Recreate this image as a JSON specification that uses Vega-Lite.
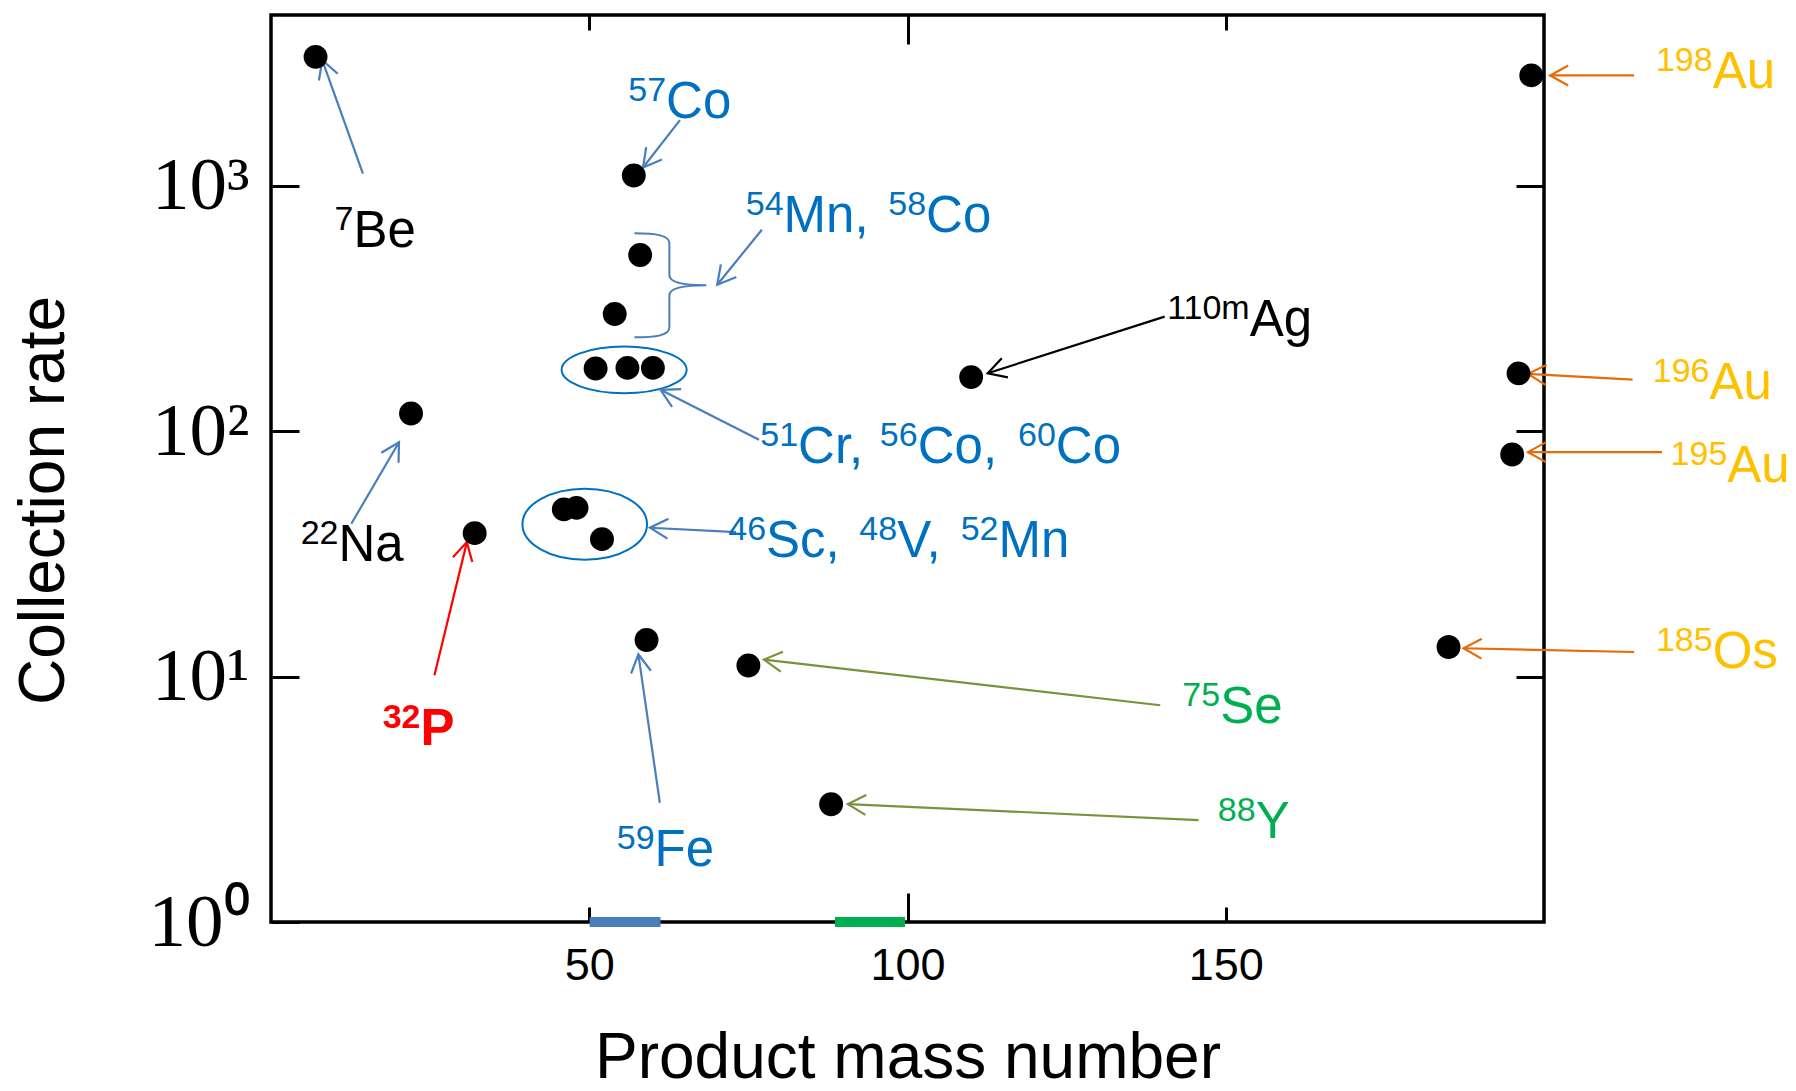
{
  "$schema": "https://vega.github.io/schema/vega-lite/v6.json",
  "width": 1273,
  "height": 907,
  "autosize": {"type": "none"},
  "padding": {"left": 271, "top": 15, "right": 252, "bottom": 169},
  "background": "white",
  "config": {
    "font": "Liberation Sans",
    "view": {"stroke": "#000000", "strokeWidth": 3.5},
    "axis": {"grid": false, "domain": false, "tickColor": "#000000", "tickWidth": 3, "labelColor": "#000000", "titleColor": "#000000", "titleFontWeight": "normal"}
  },
  "datasets": {
    "points": [
      {"nuclide": "7Be", "mass": 7, "rate": 3350},
      {"nuclide": "22Na", "mass": 22, "rate": 118},
      {"nuclide": "32P", "mass": 32, "rate": 38.4},
      {"nuclide": "46Sc", "mass": 46, "rate": 48},
      {"nuclide": "48V", "mass": 48, "rate": 48.7},
      {"nuclide": "51Cr", "mass": 51, "rate": 180},
      {"nuclide": "52Mn", "mass": 52, "rate": 36.3},
      {"nuclide": "54Mn", "mass": 54, "rate": 300},
      {"nuclide": "56Co", "mass": 56, "rate": 181},
      {"nuclide": "57Co", "mass": 57, "rate": 1100},
      {"nuclide": "58Co", "mass": 58, "rate": 522},
      {"nuclide": "59Fe", "mass": 59, "rate": 14.1},
      {"nuclide": "60Co", "mass": 60, "rate": 181},
      {"nuclide": "75Se", "mass": 75, "rate": 11.1},
      {"nuclide": "88Y", "mass": 88, "rate": 3.02},
      {"nuclide": "110mAg", "mass": 110, "rate": 166},
      {"nuclide": "185Os", "mass": 185, "rate": 13.2},
      {"nuclide": "195Au", "mass": 195, "rate": 80.3},
      {"nuclide": "196Au", "mass": 196, "rate": 172},
      {"nuclide": "198Au", "mass": 198, "rate": 2815}
    ],
    "labels": [
      {"sup": "7", "sym": "Be", "x": 12.96, "y": 560, "grp": "BeNa"},
      {"sup": "57", "sym": "Co", "x": 62.07, "y": 1895, "grp": "trans"},
      {"sup": "54", "sym": "Mn,", "x": 80.53, "y": 645, "grp": "trans"},
      {"sup": "58", "sym": "Co", "x": 102.92, "y": 645, "grp": "trans"},
      {"sup": "110m", "sym": "Ag", "x": 153.76, "y": 245, "grp": "Ag"},
      {"sup": "51", "sym": "Cr,", "x": 82.81, "y": 74.5, "grp": "trans"},
      {"sup": "56", "sym": "Co,", "x": 101.6, "y": 74.5, "grp": "trans"},
      {"sup": "60", "sym": "Co", "x": 123.3, "y": 74.5, "grp": "trans"},
      {"sup": "22", "sym": "Na", "x": 10.61, "y": 29.7, "grp": "BeNa"},
      {"sup": "46", "sym": "Sc,", "x": 77.78, "y": 30.7, "grp": "trans"},
      {"sup": "48", "sym": "V,", "x": 98.37, "y": 30.7, "grp": "trans"},
      {"sup": "52", "sym": "Mn", "x": 114.3, "y": 30.7, "grp": "trans"},
      {"sup": "32", "sym": "P", "x": 23.49, "y": 5.25, "grp": "P"},
      {"sup": "59", "sym": "Fe", "x": 60.26, "y": 1.69, "grp": "trans"},
      {"sup": "75", "sym": "Se", "x": 149.12, "y": 6.45, "grp": "SeY"},
      {"sup": "88", "sym": "Y", "x": 154.7, "y": 2.2, "grp": "SeY"},
      {"sup": "198", "sym": "Au", "x": 226.5, "y": 2503, "grp": "AuOs"},
      {"sup": "196", "sym": "Au", "x": 226.0, "y": 135.1, "grp": "AuOs"},
      {"sup": "195", "sym": "Au", "x": 228.8, "y": 62.1, "grp": "AuOs"},
      {"sup": "185", "sym": "Os", "x": 226.5, "y": 10.81, "grp": "AuOs"}
    ],
    "arrows": [
      {"x": 8.05, "y": 3245, "x2": 14.44, "y2": 1121, "grp": "BeNa"},
      {"x": 58.45, "y": 1186, "x2": 64.25, "y2": 1849, "grp": "trans"},
      {"x": 70.11, "y": 395, "x2": 77.12, "y2": 661.5, "grp": "trans"},
      {"x": 112.6, "y": 172.1, "x2": 140.4, "y2": 292.7, "grp": "Ag"},
      {"x": 61.2, "y": 147.3, "x2": 76.67, "y2": 92.2, "grp": "trans"},
      {"x": 20.11, "y": 90.1, "x2": 12.62, "y2": 41.95, "grp": "BeNa"},
      {"x": 59.54, "y": 40.4, "x2": 73.07, "y2": 38.78, "grp": "trans"},
      {"x": 30.77, "y": 35.3, "x2": 25.68, "y2": 10.12, "grp": "P"},
      {"x": 57.72, "y": 12.32, "x2": 61.09, "y2": 3.059, "grp": "trans"},
      {"x": 77.45, "y": 11.73, "x2": 139.71, "y2": 7.64, "grp": "SeY"},
      {"x": 90.63, "y": 3.022, "x2": 145.74, "y2": 2.602, "grp": "SeY"},
      {"x": 200.97, "y": 2814, "x2": 214.16, "y2": 2814, "grp": "AuOs"},
      {"x": 197.49, "y": 171.1, "x2": 213.92, "y2": 162.2, "grp": "AuOs"},
      {"x": 197.49, "y": 82.1, "x2": 218.53, "y2": 82.1, "grp": "AuOs"},
      {"x": 187.37, "y": 13.04, "x2": 214.16, "y2": 12.59, "grp": "AuOs"}
    ],
    "shapes": [
      {"shape": "ellipse-a", "x": 55.48, "y": 177.7},
      {"shape": "ellipse-b", "x": 49.29, "y": 41.75},
      {"shape": "brace", "x": 57.09, "y": 392.6}
    ],
    "bars": [
      {"range": "A", "x": 50.06, "x2": 61.2, "y": 1},
      {"range": "B", "x": 88.6, "x2": 99.6, "y": 1}
    ]
  },
  "layer": [
    {
      "data": {"name": "shapes"},
      "mark": {"type": "point", "filled": false, "size": 4, "strokeWidth": 2, "opacity": 1, "stroke": {"expr": "datum.shape == 'brace' ? '#4A7EBB' : '#0070C0'"}},
      "encoding": {
        "x": {"field": "x", "type": "quantitative", "scale": {"domain": [0, 200], "nice": false, "zero": false}, "axis": null},
        "y": {"field": "y", "type": "quantitative", "scale": {"type": "log", "domain": [1, 4960], "nice": false}, "axis": null},
        "shape": {"field": "shape", "type": "nominal", "legend": null, "scale": {"domain": ["ellipse-a", "ellipse-b", "brace"], "range": [
          "M -62.5 0 A 62.5 23.3 0 1 0 62.5 0 A 62.5 23.3 0 1 0 -62.5 0 Z",
          "M -62.3 0 A 62.3 35.5 0 1 0 62.3 0 A 62.3 35.5 0 1 0 -62.3 0 Z",
          "M 0 -52 C 22 -52 35 -50 35 -42 L 35 -10 C 35 -3 48 0 72 0 C 48 0 35 3 35 10 L 35 42 C 35 50 22 52 0 52"
        ]}}
      }
    },
    {
      "data": {"name": "bars"},
      "mark": {"type": "rule", "strokeWidth": 10},
      "encoding": {
        "x": {"field": "x", "type": "quantitative", "scale": {"domain": [0, 200], "nice": false, "zero": false},
              "axis": {"orient": "bottom", "values": [100], "tickSize": -29, "labels": false, "title": null}},
        "x2": {"field": "x2"},
        "y": {"field": "y", "type": "quantitative", "scale": {"type": "log", "domain": [1, 4960], "nice": false},
              "axis": {"orient": "right", "values": [10, 100, 1000], "tickSize": -28, "labels": false, "title": null}},
        "color": {"field": "range", "type": "nominal", "legend": null, "scale": {"domain": ["A", "B"], "range": ["#4A7EBB", "#00B050"]}}
      }
    },
    {
      "data": {"name": "arrows"},
      "mark": {"type": "rule", "strokeWidth": 2.2},
      "encoding": {
        "x": {"field": "x", "type": "quantitative", "scale": {"domain": [0, 200], "nice": false, "zero": false},
              "axis": {"orient": "top", "values": [50, 150], "tickSize": -15, "labels": false, "title": null}},
        "x2": {"field": "x2"},
        "y": {"field": "y", "type": "quantitative", "scale": {"type": "log", "domain": [1, 4960], "nice": false}, "axis": null},
        "y2": {"field": "y2"},
        "stroke": {"field": "grp", "type": "nominal", "legend": null, "scale": {"domain": ["BeNa", "trans", "Ag", "P", "SeY", "AuOs"], "range": ["#4A7EBB", "#4A7EBB", "#000000", "#FF0000", "#77933C", "#E46C0A"]}}
      }
    },
    {
      "data": {"name": "arrows"},
      "mark": {"type": "point", "filled": false, "size": 4, "strokeWidth": 2.2, "opacity": 1, "shape": "M -10 18 L 0 0 L 10 18",
               "angle": {"expr": "atan2(scale('x', datum.x) - scale('x', datum.x2), scale('y', datum.y2) - scale('y', datum.y)) * 180 / PI"}},
      "encoding": {
        "x": {"field": "x", "type": "quantitative", "scale": {"domain": [0, 200], "nice": false, "zero": false},
              "axis": {"orient": "top", "values": [100], "tickSize": -29, "labels": false, "title": null}},
        "y": {"field": "y", "type": "quantitative", "scale": {"type": "log", "domain": [1, 4960], "nice": false}, "axis": null},
        "stroke": {"field": "grp", "type": "nominal", "legend": null, "scale": {"domain": ["BeNa", "trans", "Ag", "P", "SeY", "AuOs"], "range": ["#4A7EBB", "#4A7EBB", "#000000", "#FF0000", "#77933C", "#E46C0A"]}}
      }
    },
    {
      "data": {"name": "points"},
      "mark": {"type": "circle", "size": 570, "color": "#000000", "opacity": 1},
      "encoding": {
        "x": {"field": "mass", "type": "quantitative", "scale": {"domain": [0, 200], "nice": false, "zero": false},
              "axis": {"orient": "bottom", "values": [50, 100, 150], "tickSize": -15, "labelFont": "Liberation Sans", "labelFontSize": 45, "labelPadding": 36,
                       "title": "Product mass number", "titleFont": "Liberation Sans", "titleFontSize": 64, "titleBaseline": "alphabetic", "titleY": 155}},
        "y": {"field": "rate", "type": "quantitative", "scale": {"type": "log", "domain": [1, 4960], "nice": false},
              "axis": {"orient": "left", "values": [1, 10, 100, 1000], "tickSize": -28, "labelFont": "Liberation Serif", "labelFontSize": 75, "labelPadding": 50,
                       "labelExpr": "'10' + ['⁰','¹','²','³'][round(log(datum.value)/LN10)]",
                       "title": "Collection rate", "titleFont": "Liberation Sans", "titleFontSize": 64, "titleBaseline": "alphabetic", "titleX": -208, "titleY": 485}}
      }
    },
    {
      "data": {"name": "labels"},
      "mark": {"type": "text", "align": "right", "baseline": "alphabetic", "dy": -17, "fontSize": 34, "font": "Liberation Sans",
               "fontWeight": {"expr": "datum.grp == 'P' ? 'bold' : 'normal'"}},
      "encoding": {
        "x": {"field": "x", "type": "quantitative", "scale": {"domain": [0, 200], "nice": false, "zero": false}, "axis": null},
        "y": {"field": "y", "type": "quantitative", "scale": {"type": "log", "domain": [1, 4960], "nice": false}, "axis": null},
        "text": {"field": "sup"},
        "fill": {"field": "grp", "type": "nominal", "legend": null, "scale": {"domain": ["BeNa", "trans", "Ag", "P", "SeY", "AuOs"], "range": ["#000000", "#0070C0", "#000000", "#FF0000", "#00B050", "#FFC000"]}}
      }
    },
    {
      "data": {"name": "labels"},
      "mark": {"type": "text", "align": "left", "baseline": "alphabetic", "fontSize": 51, "font": "Liberation Sans",
               "fontWeight": {"expr": "datum.grp == 'P' ? 'bold' : 'normal'"}},
      "encoding": {
        "x": {"field": "x", "type": "quantitative", "scale": {"domain": [0, 200], "nice": false, "zero": false}, "axis": null},
        "y": {"field": "y", "type": "quantitative", "scale": {"type": "log", "domain": [1, 4960], "nice": false}, "axis": null},
        "text": {"field": "sym"},
        "fill": {"field": "grp", "type": "nominal", "legend": null, "scale": {"domain": ["BeNa", "trans", "Ag", "P", "SeY", "AuOs"], "range": ["#000000", "#0070C0", "#000000", "#FF0000", "#00B050", "#FFC000"]}}
      }
    }
  ]
}
